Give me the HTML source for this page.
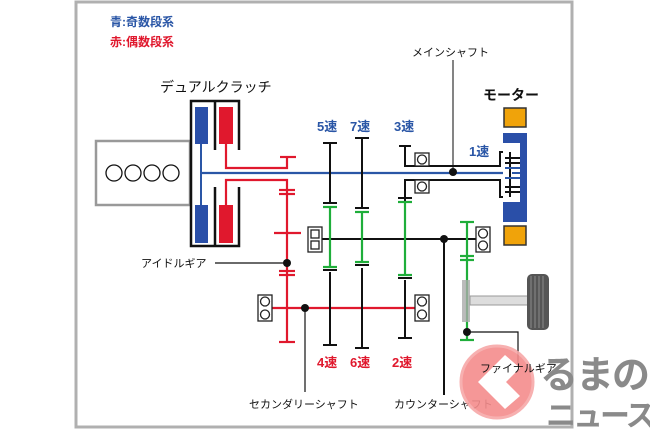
<!DOCTYPE html>
<html><head><meta charset="utf-8"><style>
html,body{margin:0;padding:0;background:#fff;}
svg{display:block;}
text{font-family:"Liberation Sans","Noto Sans CJK JP",sans-serif;}
</style></head><body>
<svg width="650" height="433" viewBox="0 0 650 433" xmlns="http://www.w3.org/2000/svg">
<rect x="76" y="2" width="496" height="425" fill="#fff" stroke="#b0b0b0" stroke-width="3"/>
<text x="110" y="26" font-size="12" font-weight="bold" fill="#2a56a6">青:奇数段系</text>
<text x="110" y="46" font-size="12" font-weight="bold" fill="#e0182d">赤:偶数段系</text>
<text x="160" y="92" font-size="14" fill="#111">デュアルクラッチ</text>
<text x="483" y="100" font-size="14" font-weight="bold" fill="#111">モーター</text>
<text x="412" y="56" font-size="11" fill="#111">メインシャフト</text>
<line x1="453" y1="60" x2="453" y2="172" stroke="#333" stroke-width="1.2"/>
<!-- engine -->
<rect x="96" y="141" width="94" height="64" fill="#fff" stroke="#999" stroke-width="2.5"/>
<g fill="none" stroke="#111" stroke-width="1.3"><circle cx="114" cy="173" r="8"/><circle cx="133" cy="173" r="8"/><circle cx="152" cy="173" r="8"/><circle cx="171" cy="173" r="8"/></g>
<!-- clutch -->
<g stroke="#111" stroke-width="2.5" fill="none">
<path d="M215 101 H191 V246 H215"/>
<path d="M215 101 H239 V150 M239 187 V246 H215"/>
<line x1="215" y1="101" x2="215" y2="150"/><line x1="215" y1="187" x2="215" y2="246"/>
</g>
<rect x="195" y="107" width="13" height="37" fill="#2a4fa8"/>
<rect x="195" y="205" width="13" height="38" fill="#2a4fa8"/>
<rect x="219" y="107" width="14" height="37" fill="#e0182d"/>
<rect x="219" y="205" width="14" height="38" fill="#e0182d"/>
<line x1="201" y1="144" x2="201" y2="205" stroke="#2a56a6" stroke-width="2"/>
<!-- red paths -->
<g stroke="#e0182d" stroke-width="2.2" fill="none">
<path d="M226 144 V168 H287 V157"/><line x1="280" y1="157" x2="296" y2="157"/>
<path d="M226 205 V180 H287 V342"/>
<line x1="279" y1="190" x2="295" y2="190"/><line x1="279" y1="194" x2="295" y2="194"/>
<line x1="274" y1="233" x2="301" y2="233"/>
<line x1="279" y1="271" x2="295" y2="271"/><line x1="279" y1="275" x2="295" y2="275"/>
<line x1="279" y1="342" x2="295" y2="342"/>
<line x1="272" y1="308" x2="415" y2="308"/>
</g>
<!-- main shaft -->
<g stroke="#111" stroke-width="2" fill="none">
<path d="M405 146 V166 H500 V152 H510"/>
<path d="M405 238 V180 H500 V197 H510"/>
<line x1="399" y1="146" x2="411" y2="146"/>
</g>
<line x1="201" y1="173" x2="520" y2="173" stroke="#2a56a6" stroke-width="2.2"/>
<!-- gear verticals black -->
<g stroke="#111" stroke-width="2" fill="none">
<line x1="330" y1="143" x2="330" y2="203"/><line x1="323" y1="143" x2="337" y2="143"/>
<line x1="330" y1="272" x2="330" y2="345"/><line x1="323" y1="345" x2="337" y2="345"/>
<line x1="362" y1="138" x2="362" y2="208"/><line x1="355" y1="138" x2="369" y2="138"/>
<line x1="362" y1="268" x2="362" y2="348"/><line x1="355" y1="348" x2="369" y2="348"/>
<line x1="405" y1="280" x2="405" y2="338"/><line x1="398" y1="338" x2="412" y2="338"/>
<line x1="322" y1="239" x2="477" y2="239"/>
<line x1="444" y1="239" x2="444" y2="395"/>
<line x1="305" y1="308" x2="305" y2="392" stroke-width="1.2"/>
<path d="M467 332 H518 V365" stroke-width="1.2"/>
<line x1="215" y1="263" x2="287" y2="263" stroke-width="1.2"/>
<line x1="323" y1="203" x2="337" y2="203"/><line x1="355" y1="208" x2="369" y2="208"/>
<line x1="323" y1="270" x2="337" y2="270"/><line x1="355" y1="265" x2="369" y2="265"/>
<line x1="398" y1="198" x2="412" y2="198"/><line x1="398" y1="278" x2="412" y2="278"/>
</g>
<!-- green -->
<g stroke="#1fae3a" stroke-width="2.2" fill="none">
<line x1="330" y1="207" x2="330" y2="268"/><line x1="323" y1="207" x2="337" y2="207"/><line x1="323" y1="267" x2="337" y2="267"/>
<line x1="362" y1="212" x2="362" y2="262"/><line x1="355" y1="212" x2="369" y2="212"/><line x1="355" y1="262" x2="369" y2="262"/>
<line x1="405" y1="202" x2="405" y2="275"/><line x1="398" y1="202" x2="412" y2="202"/><line x1="398" y1="275" x2="412" y2="275"/>
<line x1="467" y1="222" x2="467" y2="340"/><line x1="460" y1="222" x2="474" y2="222"/>
<line x1="460" y1="256" x2="474" y2="256"/><line x1="460" y1="260" x2="474" y2="260"/>
<line x1="460" y1="340" x2="474" y2="340"/>
</g>
<!-- final drive / wheel -->
<rect x="462" y="280" width="8" height="42" fill="#aaa" opacity="0.8"/>
<rect x="470" y="296" width="60" height="9" fill="#ddd" stroke="#999" stroke-width="1"/>
<rect x="527" y="274" width="22" height="56" rx="5" fill="#555"/>
<g stroke="#999" stroke-width="0.8"><line x1="531" y1="276" x2="531" y2="328"/><line x1="535" y1="276" x2="535" y2="328"/><line x1="539" y1="276" x2="539" y2="328"/><line x1="543" y1="276" x2="543" y2="328"/></g>
<!-- 1速 gear -->
<g stroke="#111" stroke-width="2"><line x1="510" y1="152" x2="510" y2="197"/>
<line x1="505" y1="158" x2="520" y2="158"/><line x1="505" y1="163" x2="520" y2="163"/>
<line x1="505" y1="187" x2="520" y2="187"/><line x1="505" y1="192" x2="520" y2="192"/></g>
<g stroke="#2a56a6" stroke-width="2"><line x1="505" y1="168" x2="520" y2="168"/><line x1="505" y1="178" x2="520" y2="178"/></g>
<!-- motor -->
<rect x="503" y="133" width="24" height="89" fill="#2a4fa8"/>
<rect x="503" y="143" width="17" height="59" fill="#fff"/>
<g stroke="#111" stroke-width="2"><line x1="510" y1="152" x2="510" y2="197"/>
<line x1="505" y1="158" x2="520" y2="158"/><line x1="505" y1="163" x2="520" y2="163"/>
<line x1="505" y1="187" x2="520" y2="187"/><line x1="505" y1="192" x2="520" y2="192"/></g>
<g stroke="#2a56a6" stroke-width="2"><line x1="505" y1="168" x2="520" y2="168"/><line x1="505" y1="178" x2="520" y2="178"/><line x1="512" y1="173" x2="520" y2="173"/></g>
<rect x="504" y="108" width="22" height="19" fill="#f0a30a" stroke="#333" stroke-width="1.5"/>
<rect x="504" y="226" width="22" height="19" fill="#f0a30a" stroke="#333" stroke-width="1.5"/>
<!-- bearings -->
<g fill="#fff" stroke="#222" stroke-width="1.3">
<rect x="415" y="153" width="14" height="13"/><circle cx="422" cy="159.5" r="4.5"/>
<rect x="415" y="180" width="14" height="13"/><circle cx="422" cy="186.5" r="4.5"/>
<rect x="308" y="227" width="14" height="25"/><rect x="311" y="230" width="8" height="8"/><rect x="311" y="241" width="8" height="8"/>
<rect x="476" y="227" width="14" height="25"/><circle cx="483" cy="233.5" r="4.5"/><circle cx="483" cy="245.5" r="4.5"/>
<rect x="258" y="295" width="14" height="26"/><circle cx="265" cy="301.5" r="4.5"/><circle cx="265" cy="314.5" r="4.5"/>
<rect x="415" y="295" width="14" height="26"/><circle cx="422" cy="301.5" r="4.5"/><circle cx="422" cy="314.5" r="4.5"/>
</g>
<g fill="#111"><circle cx="453" cy="172" r="4"/><circle cx="444" cy="239" r="4"/><circle cx="287" cy="263" r="4"/><circle cx="305" cy="308" r="4"/><circle cx="467" cy="332" r="4"/></g>
<!-- labels -->
<g font-size="13" font-weight="bold" fill="#2a56a6">
<text x="317" y="131">5速</text><text x="350" y="131">7速</text><text x="394" y="131">3速</text><text x="469" y="156">1速</text></g>
<g font-size="13" font-weight="bold" fill="#e0182d">
<text x="317" y="367">4速</text><text x="350" y="367">6速</text><text x="392" y="367">2速</text></g>
<g font-size="11" fill="#111">
<text x="141" y="267">アイドルギア</text>
<text x="249" y="408">セカンダリーシャフト</text>
<text x="394" y="408">カウンターシャフト</text>
</g>
<!-- logo -->
<circle cx="497" cy="382" r="36" fill="#f48c8c" stroke="#f7a8a8" stroke-width="3" opacity="0.9"/>
<path d="M505 355 L478 382 L505 409 L520 396 L506 382 L520 368 Z" fill="#fff"/>
<text x="480" y="372" font-size="11" fill="#111">ファイナルギア</text>
<text x="540" y="388" font-size="38" font-weight="bold" fill="#8a8a8a" letter-spacing="-2">るまの</text>
<text x="546" y="426" font-size="30" font-weight="bold" fill="#8a8a8a" letter-spacing="-3">ニュース</text>
</svg>
</body></html>
